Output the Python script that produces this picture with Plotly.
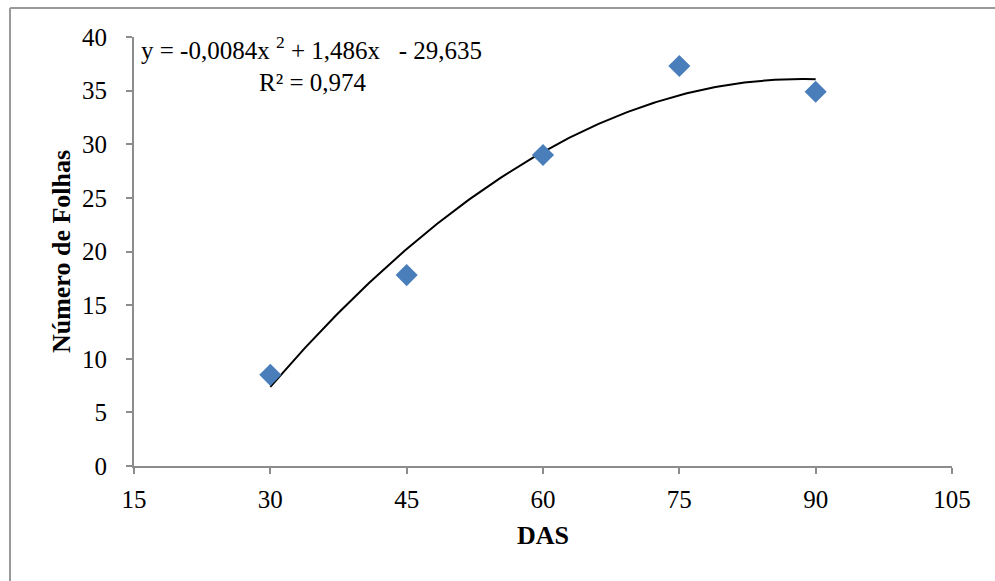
import numpy as np
import plotly.graph_objects as go

das = [30, 45, 60, 75, 90]
folhas = [8.5, 17.8, 29.0, 37.3, 34.9]
coef = [-0.0084, 1.486, -29.635]  # trendline coefficients shown in the chart
x_ticks = [15, 30, 45, 60, 75, 90, 105]
y_ticks = [0, 5, 10, 15, 20, 25, 30, 35, 40]

xf = np.linspace(30, 90, 200)
yf = np.polyval(coef, xf)

FONT = "Liberation Serif, Times New Roman, serif"
AX = "#8c8c8c"

fig = go.Figure()
fig.add_trace(go.Scatter(x=xf, y=yf, mode="lines",
                         line=dict(color="black", width=2), hoverinfo="skip"))
fig.add_trace(go.Scatter(x=das, y=folhas, mode="markers",
                         marker=dict(symbol="diamond", size=17, color="#4a7ebb")))

L, R, T, B = 134, 43, 37, 115
W, H = 995, 581
pw, ph = W - L - R, H - T - B

def px(x):
    return (x - L) / pw

def py(y):
    return (H - B - y) / ph

fig.update_layout(
    width=W, height=H, showlegend=False,
    margin=dict(l=L, r=R, t=T, b=B),
    paper_bgcolor="white", plot_bgcolor="white",
    font=dict(family=FONT, color="black", size=25),
    xaxis=dict(range=[15, 105], tickvals=x_ticks, showgrid=False, zeroline=False,
               showline=True, linecolor=AX, linewidth=2, ticks="outside",
               tickcolor=AX, ticklen=6, tickwidth=2, ticklabelstandoff=4,
               tickfont=dict(size=25, family=FONT),
               title=dict(text="<b>DAS</b>", font=dict(size=26, family=FONT), standoff=14)),
    yaxis=dict(range=[0, 40], tickvals=y_ticks, showgrid=False, zeroline=False,
               showline=True, linecolor=AX, linewidth=2, ticks="outside",
               tickcolor=AX, ticklen=6, tickwidth=2, ticklabelstandoff=14,
               tickfont=dict(size=25, family=FONT),
               title=dict(text="<b>Número de Folhas</b>", font=dict(size=26, family=FONT), standoff=4)),
    shapes=[
        dict(type="line", xref="paper", yref="paper", x0=px(10), x1=px(W + 5),
             y0=py(8), y1=py(8), line=dict(color="#9a9a9a", width=2)),
        dict(type="line", xref="paper", yref="paper", x0=px(10), x1=px(10),
             y0=py(8), y1=py(H + 5), line=dict(color="#9a9a9a", width=2)),
    ],
    annotations=[
        dict(xref="paper", yref="paper", x=px(139), y=py(48), xanchor="left", yanchor="middle",
             text="y = -0,0084x&nbsp;<sup>2</sup> + 1,486x&nbsp;&nbsp;&nbsp;- 29,635", showarrow=False,
             font=dict(size=25, family=FONT)),
        dict(xref="paper", yref="paper", x=px(313), y=py(82), xanchor="center", yanchor="middle",
             text="R² = 0,974", showarrow=False, font=dict(size=25, family=FONT)),
    ],
)

fig.write_html("out.html")
